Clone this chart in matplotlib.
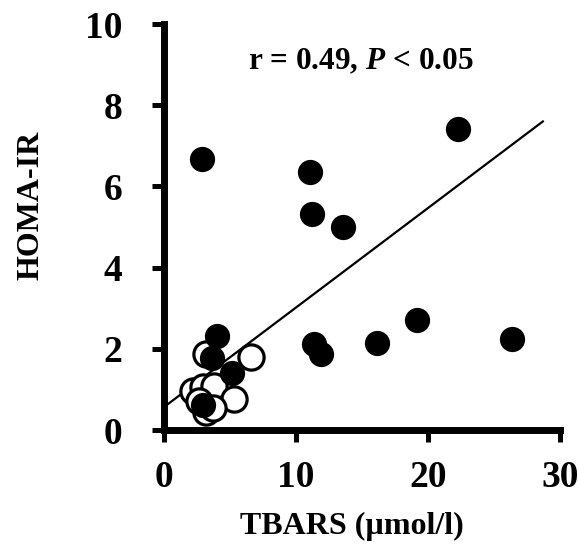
import matplotlib.pyplot as plt

plt.rcParams['font.family'] = ['Liberation Serif', 'DejaVu Serif']
plt.rcParams['font.weight'] = 'bold'
plt.rcParams['mathtext.fontset'] = 'custom'
plt.rcParams['mathtext.it'] = 'Liberation Serif:italic:bold'
plt.rcParams['mathtext.rm'] = 'Liberation Serif:bold'

# filled circles
filled_x = [2.92, 22.27, 11.04, 11.26, 13.6, 19.15, 26.35, 16.18, 11.39, 11.87, 4.05, 3.68, 5.19, 3.0]
filled_y = [6.67, 7.41, 6.36, 5.31, 4.99, 2.70, 2.23, 2.14, 2.12, 1.86, 2.31, 1.78, 1.41, 0.62]

# open circles
open_x = [3.17, 6.58, 2.2, 2.95, 3.83, 5.3, 2.7, 3.2, 3.7]
open_y = [1.86, 1.79, 0.95, 1.05, 1.08, 0.76, 0.72, 0.45, 0.55]

# regression line
line_x = [0.33, 28.7]
slope, intercept = 0.2453, 0.56

fig = plt.figure(figsize=(5.78, 5.51), dpi=100)
ax = fig.add_axes([0.2832, 0.2196, 0.6857, 0.7368])

ax.scatter(open_x, open_y, s=330, facecolors='white', edgecolors='black',
           linewidths=2.3, zorder=3)
ax.scatter(filled_x, filled_y, s=330, color='black', linewidths=0, zorder=4)
ax.plot(line_x, [intercept + slope * x for x in line_x], color='black', lw=1.6, zorder=2)

ax.set_xlim(0, 30)
ax.set_ylim(0, 10)
ax.set_xticks([0, 10, 20, 30])
ax.set_yticks([0, 2, 4, 6, 8, 10])
for s in ['top', 'right']:
    ax.spines[s].set_visible(False)
for s in ['left', 'bottom']:
    ax.spines[s].set_linewidth(5)
ax.tick_params(direction='out', length=8.5, width=3.6, labelsize=27)
ax.tick_params(axis='y', pad=21)
ax.tick_params(axis='x', pad=13)
for lab in ax.get_xticklabels() + ax.get_yticklabels():
    lab.set_fontweight('bold')

ax.set_xlabel('TBARS (µmol/l)', fontsize=23, fontweight='bold', va='baseline')
ax.xaxis.set_label_coords(0.4736, -0.257)
ax.set_ylabel('HOMA-IR', fontsize=23, fontweight='bold', va='center')
ax.yaxis.set_label_coords(-0.335, 0.553)

ax.text(14.9, 8.87, r'r = 0.49, $P$ < 0.05', fontsize=22.5, fontweight='bold',
        ha='center', va='baseline')

for sp in ax.spines.values():
    sp.set_clip_on(False)

fig.savefig('out.png', dpi=100)
